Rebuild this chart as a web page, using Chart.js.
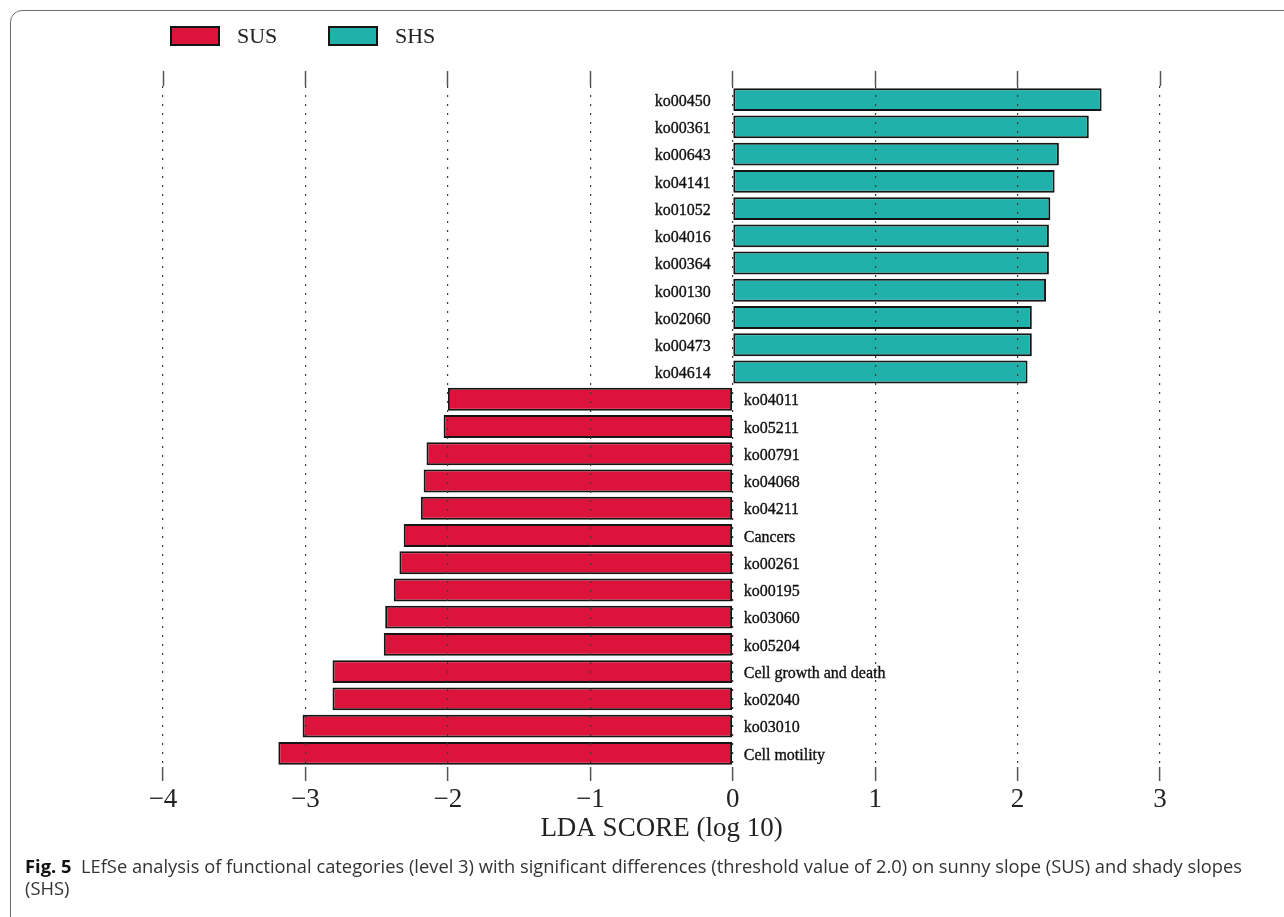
<!DOCTYPE html>
<html>
<head>
<meta charset="utf-8">
<title>LEfSe LDA scores</title>
<script src="https://cdn.jsdelivr.net/npm/chart.js@4.4.1/dist/chart.umd.min.js"></script>
<style>
  html, body { margin: 0; padding: 0; background: #ffffff; }
  body { width: 1284px; height: 917px; position: relative; overflow: hidden; }
  #frame {
    position: absolute; left: 10px; top: 10px; width: 1300px; height: 940px;
    border: 1.5px solid #6d6d6d; border-radius: 12px; box-sizing: border-box;
  }
  #wrap { position: absolute; left: 0; top: 0; width: 1284px; height: 860px; }
  #caption {
    position: absolute; left: 25px; top: 855px; white-space: nowrap;
    font-family: "Open Sans", "Noto Sans", sans-serif; font-size: 18px; line-height: 22px;
    color: #333333; transform-origin: 0 0;
  }
  #caption b { color: #111111; font-weight: 700; }
</style>
</head>
<body>
<div id="frame"></div>
<div id="wrap"><canvas id="chart"></canvas></div>
<div id="caption"><span id="capLine"><b>Fig. 5</b>&nbsp; LEfSe analysis of functional categories (level 3) with significant differences (threshold value of 2.0) on sunny slope (SUS) and shady slopes</span><br>(SHS)</div>
<script>
// Features enriched on shady slopes (positive LDA score)
const shsLabels = ['ko00450', 'ko00361', 'ko00643', 'ko04141', 'ko01052', 'ko04016',
                   'ko00364', 'ko00130', 'ko02060', 'ko00473', 'ko04614'];
const shsScores = [2.59, 2.50, 2.29, 2.26, 2.23, 2.22, 2.22, 2.20, 2.10, 2.10, 2.07];

// Features enriched on sunny slope (negative LDA score)
const susLabels = ['ko04011', 'ko05211', 'ko00791', 'ko04068', 'ko04211', 'Cancers',
                   'ko00261', 'ko00195', 'ko03060', 'ko05204', 'Cell growth and death',
                   'ko02040', 'ko03010', 'Cell motility'];
const susScores = [-2.00, -2.03, -2.15, -2.17, -2.19, -2.31, -2.34, -2.38, -2.44, -2.45,
                   -2.81, -2.81, -3.02, -3.19];

// Axis ticks (LDA score, log 10)
const xTicks = [-4, -3, -2, -1, 0, 1, 2, 3];

const groupNames = ['SUS', 'SHS'];
const groupColors = ['#DC143C', '#20B2AA'];

const categories = shsLabels.concat(susLabels);
const susData = shsLabels.map(() => null).concat(susScores);
const shsData = shsScores.concat(susLabels.map(() => null));

const serif = '"Liberation Serif", "Times New Roman", serif';

// Category names written beside the zero line, opposite each bar
const barNames = {
  id: 'barNames',
  afterDraw(chart) {
    const ctx = chart.ctx;
    const zero = chart.scales.x.getPixelForValue(0);
    ctx.save();
    ctx.font = '16px ' + serif;
    ctx.fillStyle = '#111111';
    ctx.strokeStyle = '#111111';
    ctx.lineWidth = 0.35;
    ctx.textBaseline = 'middle';
    chart.data.datasets.forEach((ds, di) => {
      const meta = chart.getDatasetMeta(di);
      meta.data.forEach((el, i) => {
        const v = ds.data[i];
        if (v === null) return;
        const name = chart.data.labels[i];
        let x;
        if (v >= 0) {
          ctx.textAlign = 'right';
          x = zero - 22;
        } else {
          ctx.textAlign = 'left';
          x = zero + 11;
        }
        ctx.fillText(name, x, el.y + 2);
        ctx.strokeText(name, x, el.y + 2);
      });
    });
    ctx.restore();
  }
};

// Group key above the plot
const groupKey = {
  id: 'groupKey',
  afterDraw(chart) {
    const ctx = chart.ctx;
    ctx.save();
    const starts = [171, 329];
    chart.data.datasets.forEach((ds, di) => {
      const x = starts[di];
      ctx.fillStyle = ds.backgroundColor;
      ctx.fillRect(x, 27, 48, 18);
      ctx.lineWidth = 2;
      ctx.strokeStyle = '#151515';
      ctx.strokeRect(x, 27, 48, 18);
      ctx.fillStyle = '#222222';
      ctx.font = '22px ' + serif;
      ctx.textAlign = 'left';
      ctx.textBaseline = 'middle';
      ctx.fillText(ds.label, x + 66, 37);
    });
    ctx.restore();
  }
};

const minusFmt = v => (v < 0 ? '\u2212' + Math.abs(v) : String(v));

new Chart(document.getElementById('chart'), {
  type: 'bar',
  data: {
    labels: categories,
    datasets: [
      { label: groupNames[0], data: susData, backgroundColor: groupColors[0],
        borderColor: '#151515', borderWidth: 2, borderSkipped: false,
        barPercentage: 0.84, categoryPercentage: 1.0 },
      { label: groupNames[1], data: shsData, backgroundColor: groupColors[1],
        borderColor: '#151515', borderWidth: 2, borderSkipped: false,
        barPercentage: 0.84, categoryPercentage: 1.0 }
    ]
  },
  options: {
    indexAxis: 'y',
    responsive: true,
    maintainAspectRatio: false,
    animation: false,
    layout: { padding: { left: 163, right: 124, top: 71, bottom: 13 } },
    plugins: { legend: { display: false }, tooltip: { enabled: false } },
    scales: {
      y: { display: false, stacked: true },
      x: {
        type: 'linear', stacked: true, position: 'bottom',
        min: xTicks[0], max: xTicks[xTicks.length - 1],
        afterBuildTicks: axis => { axis.ticks = xTicks.map(v => ({ value: v })); },
        afterFit: axis => { axis.height = 80; },
        border: { display: false, dash: [2, 7] },
        grid: {
          z: 1, color: '#3a3a3a', lineWidth: 1.2,
          drawTicks: true, tickLength: 14, tickColor: '#555555', tickWidth: 1.5,
          tickBorderDash: []
        },
        ticks: {
          padding: 3, color: '#222222', callback: minusFmt,
          font: { family: serif, size: 27 }
        },
        title: {
          display: true, text: 'LDA SCORE (log 10)', color: '#222222',
          font: { family: serif, size: 27 }, padding: { top: 0, bottom: 2 }
        }
      },
      x2: {
        type: 'linear', position: 'top', axis: 'x',
        min: xTicks[0], max: xTicks[xTicks.length - 1],
        afterBuildTicks: axis => { axis.ticks = xTicks.map(v => ({ value: v })); },
        afterFit: axis => { axis.height = 15; },
        border: { display: false },
        grid: {
          drawOnChartArea: false, drawTicks: true, tickLength: 15,
          tickColor: '#555555', tickWidth: 1.5
        },
        ticks: { display: false, padding: 0 }
      }
    }
  },
  plugins: [barNames, groupKey]
});

// Fit the caption's first line to the figure width
const cap = document.getElementById('caption');
const line = document.getElementById('capLine');
const k = 1217 / line.getBoundingClientRect().width;
cap.style.transform = 'scaleX(' + k + ')';
</script>
</body>
</html>
